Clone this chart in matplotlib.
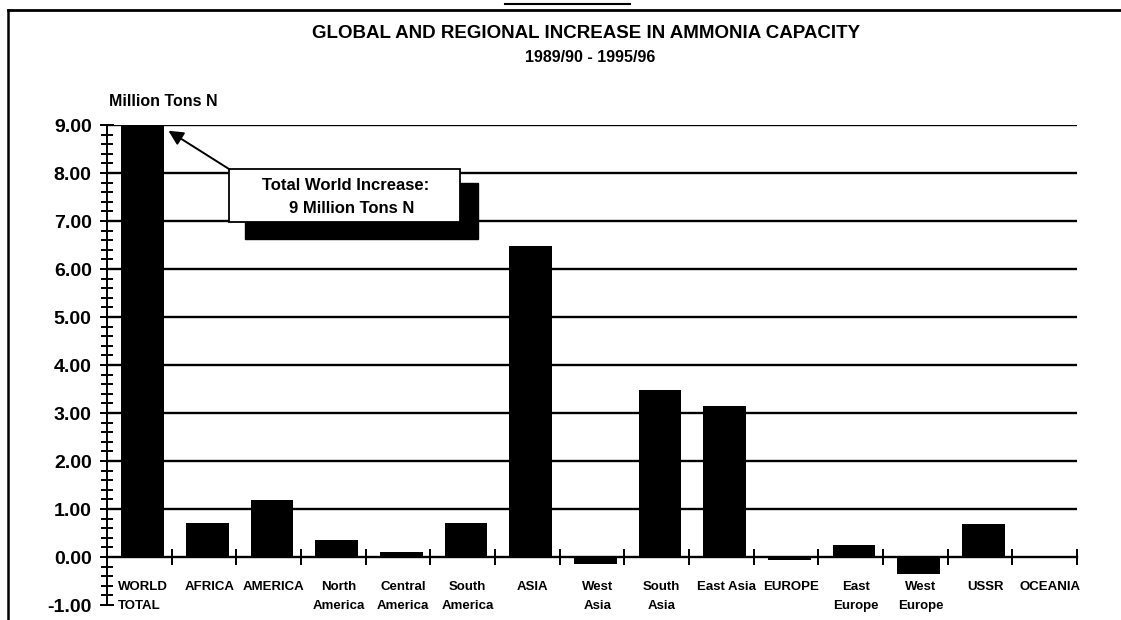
import matplotlib
matplotlib.use("Agg")
import matplotlib.pyplot as plt
from matplotlib.patches import Rectangle
from matplotlib.ticker import MultipleLocator

plt.rcParams['font.family'] = ['Liberation Sans', 'DejaVu Sans']
plt.rcParams['font.weight'] = 'bold'

regions = ["WORLD\nTOTAL", "AFRICA", "AMERICA", "North\nAmerica", "Central\nAmerica",
           "South\nAmerica", "ASIA", "West\nAsia", "South\nAsia", "East Asia", "EUROPE",
           "East\nEurope", "West\nEurope", "USSR", "OCEANIA"]
increase = [9.00, 0.71, 1.19, 0.35, 0.10, 0.70, 6.48, -0.15, 3.47, 3.15, -0.06,
            0.26, -0.35, 0.69, 0.00]
y_ticks = [-1, 0, 1, 2, 3, 4, 5, 6, 7, 8, 9]

fig = plt.figure(figsize=(11.21, 6.2), dpi=100)
W, H = 1121, 620
# axes placed so y=9 sits near the top rule and y=-1 near the bottom edge
ax = fig.add_axes([107 / W, (H - 605) / H, (1077 - 107) / W, (605 - 125) / H])

n = len(regions)
xs = [i + 0.55 for i in range(n)]
ax.bar(xs, increase, width=0.66, color='black', zorder=3)

ax.set_xlim(0, n)
ax.set_ylim(-1, 9)

# horizontal rules at whole units
for v in range(1, 10):
    ax.axhline(v, color='black', lw=1.7, zorder=1)

for s in ['top', 'right']:
    ax.spines[s].set_visible(False)
ax.spines['left'].set_linewidth(1.4)
ax.spines['bottom'].set_position(('data', 0))
ax.spines['bottom'].set_linewidth(1.7)
ax.spines['bottom'].set_zorder(2)

ax.set_yticks(y_ticks)
ax.set_yticklabels(["%.2f" % v for v in y_ticks], fontsize=14, fontweight='bold')
ax.yaxis.set_minor_locator(MultipleLocator(0.2))
ax.tick_params(axis='y', which='both', direction='inout', width=1.4)
ax.tick_params(axis='y', which='major', length=10, pad=6)
ax.tick_params(axis='y', which='minor', length=8)

ax.set_xticks(range(1, n + 1))
ax.tick_params(axis='x', direction='inout', length=11, width=1.4, labelbottom=False)

# category names under the zero line
for i, name in enumerate(regions):
    if i == 0:
        ax.text(0.17, -0.49, name, ha='left', va='top', fontsize=9.5,
                fontweight='bold', linespacing=1.8)
    else:
        ax.text(i + 0.58, -0.49, name, ha='center', va='top', fontsize=9.5,
                fontweight='bold', linespacing=1.8)

# callout box with drop shadow
ax.add_patch(Rectangle((2.14, 6.63), 3.6, 1.16, color='black', zorder=4, clip_on=False))
ax.add_patch(Rectangle((1.89, 6.98), 3.57, 1.10, facecolor='white', edgecolor='black',
                       lw=1.3, zorder=5, clip_on=False))
ax.text(3.69, 7.75, "Total World Increase:", ha='center', va='center', fontsize=12,
        fontweight='bold', zorder=6)
ax.text(3.78, 7.27, "9 Million Tons N", ha='center', va='center', fontsize=12,
        fontweight='bold', zorder=6)
ax.annotate("", xy=(0.95, 8.88), xytext=(1.89, 8.08),
            arrowprops=dict(arrowstyle='-|>', color='black', lw=1.4,
                            mutation_scale=22, shrinkA=0, shrinkB=0), zorder=6)

ax.text(0.03, 9.33, "Million Tons N", ha='left', va='bottom', fontsize=11.5,
        fontweight='bold')

fig.text(586 / W, 1 - 33 / H, "GLOBAL AND REGIONAL INCREASE IN AMMONIA CAPACITY",
         ha='center', va='center', fontsize=13.5, fontweight='bold')
fig.text(590 / W, 1 - 58 / H, "1989/90 - 1995/96", ha='center', va='center',
         fontsize=11.5, fontweight='bold')

# page frame
fig.add_artist(plt.Line2D([8 / W, 1], [1 - 10 / H, 1 - 10 / H], color='black', lw=2))
fig.add_artist(plt.Line2D([8 / W, 8 / W], [0, 1 - 10 / H], color='black', lw=1.8))
fig.add_artist(plt.Line2D([505 / W, 630 / W], [1 - 4 / H, 1 - 4 / H], color='black', lw=1.5))

fig.savefig("out.png", dpi=100)
